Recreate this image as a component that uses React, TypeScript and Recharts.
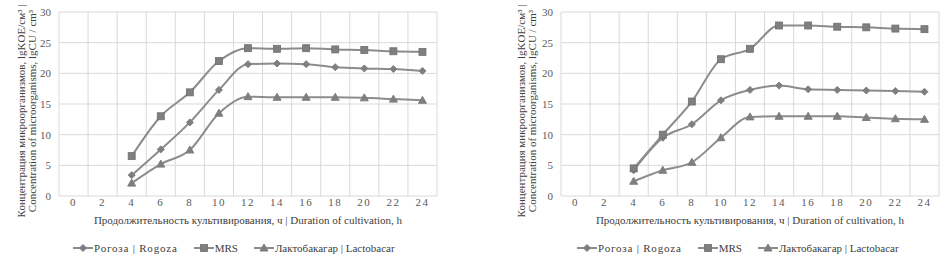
import { CartesianGrid, Legend, Line, LineChart, ReferenceLine, XAxis, YAxis } from "recharts";

const hours = [4, 6, 8, 10, 12, 14, 16, 18, 20, 22, 24];
const xTicks = [0, 2, 4, 6, 8, 10, 12, 14, 16, 18, 20, 22, 24];
const yTicks = [0, 5, 10, 15, 20, 25, 30];
const bandEdges = [-1, 1, 3, 5, 7, 9, 11, 13, 15, 17, 19, 21, 23, 25];

// left panel
const rogozaA = [3.4, 7.6, 12.0, 17.3, 21.5, 21.6, 21.5, 21.0, 20.8, 20.7, 20.4];
const mrsA = [6.5, 13.0, 16.9, 22.0, 24.1, 24.0, 24.1, 23.9, 23.8, 23.6, 23.5];
const lactoA = [2.1, 5.2, 7.5, 13.5, 16.2, 16.1, 16.1, 16.1, 16.0, 15.8, 15.6];

// right panel
const rogozaB = [4.2, 9.5, 11.7, 15.6, 17.3, 18.0, 17.4, 17.3, 17.2, 17.1, 17.0];
const mrsB = [4.5, 10.0, 15.4, 22.3, 24.0, 27.8, 27.8, 27.6, 27.5, 27.3, 27.2];
const lactoB = [2.4, 4.2, 5.5, 9.5, 12.9, 13.0, 13.0, 13.0, 12.8, 12.6, 12.5];

const seriesNames = ["Рогоза | Rogoza", "MRS", "Лактобакагар | Lactobacar"];
const yTitle = ["Концентрация микроорганизмов, lgKOE/см³ |", "Concentration of microorganisms, lgCU / cm³"];
const xTitle = "Продолжительность культивирования, ч | Duration of cultivation, h";

const FONT = "Liberation Serif, DejaVu Serif, serif";
const LINE = "#8c8c8c";
const MARK = "#7f7f7f";
const GRID = "#d9d9d9";

function buildRows(rogoza: number[], mrs: number[], lacto: number[]) {
  return hours.map((h, i) => ({ hour: h, rogoza: rogoza[i], mrs: mrs[i], lacto: lacto[i] }));
}

function Diamond({ cx, cy }: any) {
  if (cx == null || cy == null) return null;
  const r = 3.5;
  return <path d={`M${cx},${cy - r}L${cx + r},${cy}L${cx},${cy + r}L${cx - r},${cy}Z`} fill={MARK} stroke={MARK} />;
}

function Square({ cx, cy }: any) {
  if (cx == null || cy == null) return null;
  const s = 7;
  return <rect x={cx - s / 2} y={cy - s / 2} width={s} height={s} fill={MARK} stroke="#6f6f6f" strokeWidth={0.8} />;
}

function Triangle({ cx, cy }: any) {
  if (cx == null || cy == null) return null;
  return <path d={`M${cx},${cy - 4}L${cx + 4},${cy + 3}L${cx - 4},${cy + 3}Z`} fill={MARK} stroke={MARK} />;
}

const markers = [Diamond, Square, Triangle];

function XTick({ x, y, payload }: any) {
  return (
    <text x={x} y={y + 2} textAnchor="middle" style={{ fontFamily: FONT }} fontSize={11} fill="#595959" letterSpacing={1.5}>
      {payload.value}
    </text>
  );
}

function YTick({ x, y, payload }: any) {
  return (
    <text x={x} y={y + 4} textAnchor="end" style={{ fontFamily: FONT }} fontSize={11} fill="#595959">
      {payload.value}
    </text>
  );
}

function renderLegend(left: number) {
  return () => (
    <div style={{ display: "flex", gap: 16, paddingLeft: left, fontFamily: FONT, fontSize: 11, color: "#404040", height: 16, alignItems: "center" }}>
      {seriesNames.map((name, i) => {
        const M = markers[i];
        return (
          <div key={name} style={{ display: "flex", alignItems: "center" }}>
            <svg width={20} height={10}>
              <line x1={0} y1={5} x2={20} y2={5} stroke={LINE} strokeWidth={2} />
              <M cx={10} cy={5} />
            </svg>
            <span style={{ marginLeft: 1, letterSpacing: i === 0 ? 0.8 : 0 }}>{name}</span>
          </div>
        );
      })}
    </div>
  );
}

type PanelProps = {
  rogoza: number[];
  mrs: number[];
  lacto: number[];
  leftPad: number;
  rightPad: number;
  titleX: number;
  legendLeft: number;
};

function Panel({ rogoza, mrs, lacto, leftPad, rightPad, titleX, legendLeft }: PanelProps) {
  const rows = buildRows(rogoza, mrs, lacto);
  const yLabel = (props: any) => {
    const vb = props.viewBox;
    const cy = vb.y + vb.height / 2 + 7;
    return (
      <g>
        {yTitle.map((t, i) => {
          const cx = titleX + i * 11;
          return (
            <text
              key={t}
              x={cx}
              y={cy}
              textAnchor="middle"
              dominantBaseline="middle"
              transform={`rotate(-90, ${cx}, ${cy})`}
              style={{ fontFamily: FONT }}
              fontSize={11}
              fill="#404040"
            >
              {t}
            </text>
          );
        })}
      </g>
    );
  };
  const xLabel = (props: any) => {
    const vb = props.viewBox;
    return (
      <text x={vb.x + vb.width / 2} y={vb.y + 28} textAnchor="middle" style={{ fontFamily: FONT }} fontSize={11} fill="#404040">
        {xTitle}
      </text>
    );
  };
  return (
    <LineChart width={475} height={262} data={rows} margin={{ top: 12, right: rightPad, bottom: 18, left: 0 }}>
      <CartesianGrid vertical={false} stroke={GRID} />
      {bandEdges.map((v) => (
        <ReferenceLine key={v} x={v} stroke={GRID} />
      ))}
      <XAxis
        dataKey="hour"
        type="number"
        domain={[-1, 25]}
        ticks={xTicks}
        interval={0}
        axisLine={false}
        tickLine={false}
        height={32}
        tick={<XTick />}
        label={xLabel}
      />
      <YAxis
        domain={[0, 30]}
        ticks={yTicks}
        axisLine={false}
        tickLine={false}
        width={leftPad}
        tick={<YTick />}
        label={yLabel}
      />
      <Legend verticalAlign="bottom" align="left" content={renderLegend(legendLeft)} wrapperStyle={{ bottom: 6, left: 0, width: 475 }} />
      <Line type="monotone" dataKey="rogoza" name={seriesNames[0]} stroke={LINE} strokeWidth={2} dot={<Diamond />} isAnimationActive={false} />
      <Line type="monotone" dataKey="mrs" name={seriesNames[1]} stroke={LINE} strokeWidth={2} dot={<Square />} isAnimationActive={false} />
      <Line type="monotone" dataKey="lacto" name={seriesNames[2]} stroke={LINE} strokeWidth={2} dot={<Triangle />} isAnimationActive={false} />
    </LineChart>
  );
}

export default function App() {
  return (
    <div style={{ position: "fixed", left: 0, top: 0, width: 950, height: 262, background: "#fff", display: "flex", fontFamily: FONT }}>
      <Panel rogoza={rogozaA} mrs={mrsA} lacto={lactoA} leftPad={59} rightPad={38} titleX={22} legendLeft={73} />
      <Panel rogoza={rogozaB} mrs={mrsB} lacto={lactoB} leftPad={86} rightPad={11} titleX={47} legendLeft={102} />
    </div>
  );
}
